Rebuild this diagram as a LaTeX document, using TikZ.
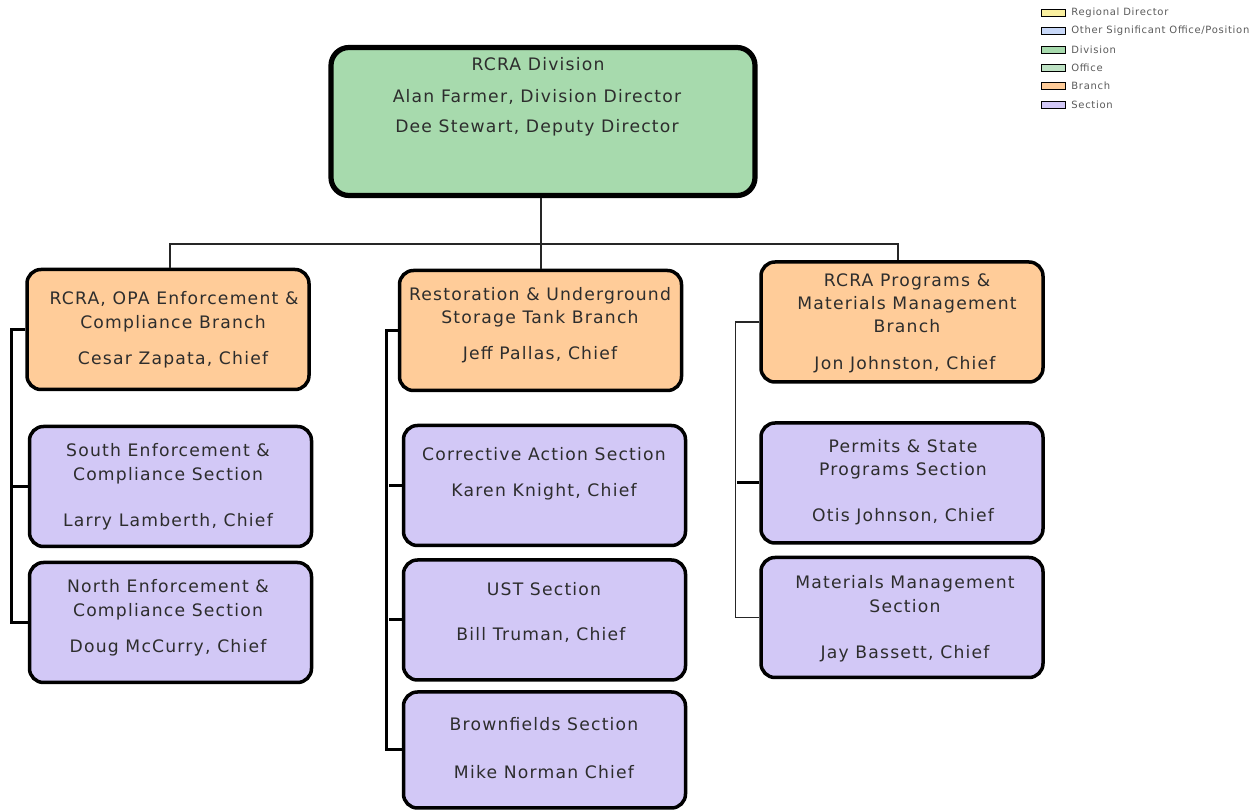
\documentclass[tikz,border=0pt]{standalone}
\usepackage{fontspec}
\setmainfont{DejaVu Sans}
\newfontfamily\boxfont[LetterSpace=7]{DejaVu Sans}
\begin{document}
\definecolor{divgreen}{RGB}{167,218,173}
\definecolor{officegreen}{RGB}{190,226,196}
\definecolor{branchorange}{RGB}{255,204,153}
\definecolor{sectionlav}{RGB}{210,200,246}
\definecolor{rdyellow}{RGB}{250,240,160}
\definecolor{otherblue}{RGB}{200,216,248}
\definecolor{txtgray}{RGB}{45,45,45}
\definecolor{leggray}{RGB}{90,90,90}
\begin{tikzpicture}[x=0.5pt,y=-0.5pt,
  box/.style={draw=black,line width=1.75pt,rounded corners=7pt,inner sep=0pt},
  divbox/.style={box,fill=divgreen,line width=2.6pt,rounded corners=9pt,
    minimum width=212pt,minimum height=74pt},
  branchbox/.style={box,fill=branchorange,minimum width=141pt,minimum height=60pt},
  secbox/.style={box,fill=sectionlav,minimum width=141pt,minimum height=60pt},
  t/.style={anchor=base,inner sep=0pt,text=txtgray,font=\boxfont\fontsize{8.6}{10}\selectfont},
  spine/.style={line width=1.5pt},
  link/.style={line width=0.75pt,draw=black!85},
  legbox/.style={draw=black,line width=0.9pt,minimum width=12pt,minimum height=3.5pt,inner sep=0pt},
  legtext/.style={anchor=west,inner sep=0pt,text=leggray,font=\boxfont\fontsize{5}{6}\selectfont}]
\useasboundingbox (0,0) rectangle (1260,812);

% ---- division ----
\node[divbox] (div) at (543,121.5) {};
\node[t] (diva) at (538,71) {RCRA Division};
\node[t] (divb) at (537,103) {Alan Farmer, Division Director};
\node[t] (divc) at (537,133) {Dee Stewart, Deputy Director};

% ---- branches ----
\node[branchbox] (b1) at (168,329.5) {};
\node[t] (b1a) at (174,305) {RCRA, OPA Enforcement \&};
\node[t] (b1b) at (173,329) {Compliance Branch};
\node[t] (b1c) at (173,365) {Cesar Zapata, Chief};

\node[branchbox] (b2) at (540.5,330.5) {};
\node[t] (b2a) at (540,301) {Restoration \& Underground};
\node[t] (b2b) at (540,324) {Storage Tank Branch};
\node[t] (b2c) at (540,360) {Jeff Pallas, Chief};

\node[branchbox] (b3) at (902,322) {};
\node[t] (b3a) at (907,287) {RCRA Programs \&};
\node[t] (b3b) at (907,310) {Materials Management};
\node[t] (b3c) at (907,333) {Branch};
\node[t] (b3d) at (905,370) {Jon Johnston, Chief};

% ---- sections ----
\node[secbox] (l1) at (170.5,486.5) {};
\node[t] (l1a) at (168,457) {South Enforcement \&};
\node[t] (l1b) at (168,481) {Compliance Section};
\node[t] (l1c) at (168,527) {Larry Lamberth, Chief};

\node[secbox] (l2) at (170.5,622.5) {};
\node[t] (l2a) at (168,593) {North Enforcement \&};
\node[t] (l2b) at (168,617) {Compliance Section};
\node[t] (l2c) at (168,653) {Doug McCurry, Chief};

\node[secbox] (m1) at (544.5,485.5) {};
\node[t] (m1a) at (544,461) {Corrective Action Section};
\node[t] (m1b) at (544,497) {Karen Knight, Chief};

\node[secbox] (m2) at (544.5,620) {};
\node[t] (m2a) at (544,596) {UST Section};
\node[t] (m2b) at (541,641) {Bill Truman, Chief};

\node[secbox,minimum height=58pt] (m3) at (544.5,750) {};
\node[t] (m3a) at (544,731) {Brownfields Section};
\node[t] (m3b) at (544,778) {Mike Norman Chief};

\node[secbox] (r1) at (902,483) {};
\node[t] (r1a) at (903,453) {Permits \& State};
\node[t] (r1b) at (903,476) {Programs Section};
\node[t] (r1c) at (903,522) {Otis Johnson, Chief};

\node[secbox] (r2) at (902,617.5) {};
\node[t] (r2a) at (905,589) {Materials Management};
\node[t] (r2b) at (905,613) {Section};
\node[t] (r2c) at (905,659) {Jay Bassett, Chief};

% ---- division to branches ----
\coordinate (hub) at (541,244);
\draw[link] (div.south -| hub) -- (hub);
\draw[link] (b1.north -| 170,0) |- (hub) -| (b3.north -| 898,0);
\draw[link] (hub) -- (b2.north -| hub);

% ---- branch to section spines ----
\draw[spine] (b1.west) -- ++(-14,0) |- (l2.west);
\draw[spine] (l1.west) -- (l1.west -| 13,0);

\draw[spine] (b2.west) -- ++(-11,0) |- (m3.west);
\draw[spine] (m1.west) -- (m1.west -| 389,0);
\draw[spine] (m2.west) -- (m2.west -| 389,0);

\draw[link] (b3.west) -- ++(-24,0) |- (r2.west);
\draw[spine] (r1.west) -- (r1.west -| 737,0);

% ---- legend ----
\foreach \yy/\fc/\lab [count=\i] in {13/rdyellow/{Regional Director},
    31/otherblue/{Other Significant Office/Position},
    50/divgreen/{Division}, 68/officegreen/{Office},
    86/branchorange/{Branch}, 105/sectionlav/{Section}}{
  \node[legbox,fill=\fc] (lg\i) at (1053.5,\yy) {};
  \node[legtext] (lt\i) at (1071,\yy) {\lab};
}
\end{tikzpicture}
\end{document}
